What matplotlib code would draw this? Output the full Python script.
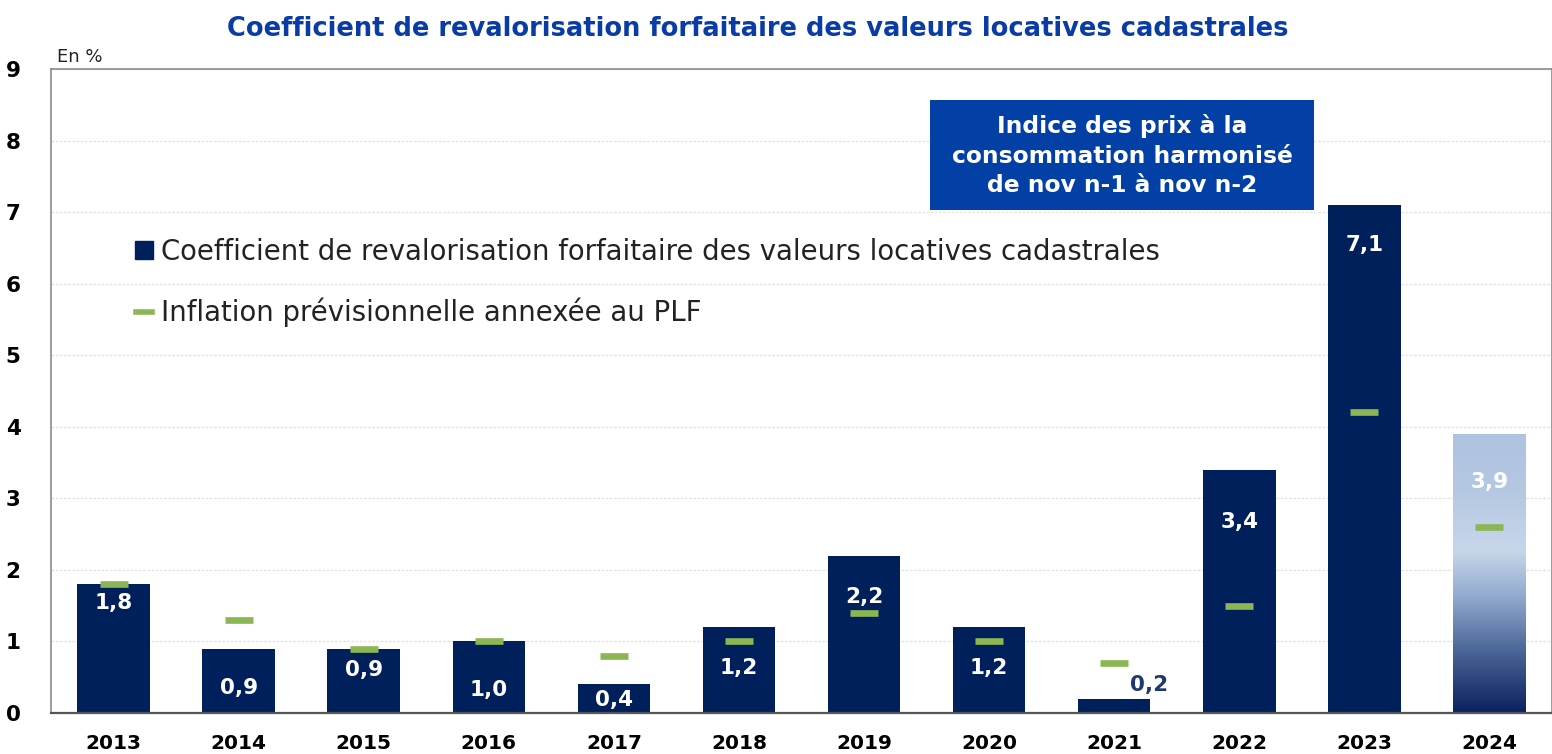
import numpy as np
import matplotlib.pyplot as plt
from matplotlib.lines import Line2D
from matplotlib.patches import Rectangle
from matplotlib.colors import LinearSegmentedColormap

plt.rcParams['font.family'] = ['DejaVu Sans']

# Données
annees = ['2013', '2014', '2015', '2016', '2017', '2018',
          '2019', '2020', '2021', '2022', '2023', '2024']
coefficient = [1.8, 0.9, 0.9, 1.0, 0.4, 1.2, 2.2, 1.2, 0.2, 3.4, 7.1, 3.9]
inflation_plf = [1.8, 1.3, 0.9, 1.0, 0.8, 1.0, 1.4, 1.0, 0.7, 1.5, 4.2, 2.6]

# hauteur des étiquettes de valeur (en %)
pos_etiquettes = [1.54, 0.35, 0.60, 0.32, 0.18, 0.63, 1.62, 0.63, 0.39, 2.67, 6.54, 3.23]

bleu_fonce = '#00205c'
vert = '#8cb653'
bleu_titre = '#0a3ca5'
bleu_encadre = '#0340a6'

fig = plt.figure(figsize=(15.52, 7.54), dpi=100)
ax = fig.add_axes([51 / 1552, 41 / 754, 1 - 51 / 1552, 644 / 754])

x = np.arange(len(annees))
largeur = 0.58

barres = ax.bar(x, coefficient, width=largeur, color=bleu_fonce, zorder=2)

# Dernière barre (2024) en dégradé
derniere = barres[-1]
derniere.set_facecolor('none')
degrade = LinearSegmentedColormap.from_list(
    'degrade', [(0.0, '#0b2160'), (0.22, '#4a6597'), (0.42, '#93abd0'),
                (0.58, '#c8d6ea'), (0.8, '#b4c8e2'), (1.0, '#aec3e0')])
xb = derniere.get_x()
grad = np.linspace(0, 1, 256).reshape(-1, 1)
img = ax.imshow(grad, cmap=degrade, origin='lower', aspect='auto',
                extent=[xb, xb + largeur, 0, coefficient[-1]], zorder=2)
img.set_clip_path(derniere)

# Inflation prévisionnelle : petits traits verts
ax.scatter(x, inflation_plf, marker='_', s=400, linewidths=4.8,
           color=vert, zorder=3)

# Étiquettes de valeur
for i, (v, h) in enumerate(zip(coefficient, pos_etiquettes)):
    txt = f'{v:.1f}'.replace('.', ',')
    if annees[i] == '2021':
        ax.text(i + 0.13, h, txt, ha='left', va='center', fontsize=15.5,
                fontweight='bold', color='#1d3a70', zorder=4)
    else:
        ax.text(i, h, txt, ha='center', va='center', fontsize=15.5,
                fontweight='bold', color='white', zorder=4)

ax.set_xlim(-0.5, len(annees) - 0.5)
ax.set_ylim(0, 9)
ax.set_yticks(range(10))
ax.set_yticklabels([str(i) for i in range(10)], fontsize=15.5, fontweight='bold')
ax.set_xticks(x)
ax.set_xticklabels(annees, fontsize=14.5, fontweight='bold')
ax.tick_params(axis='both', length=0)
ax.tick_params(axis='y', pad=22)
ax.tick_params(axis='x', pad=15)

ax.grid(axis='y', color='#e4e4e4', linestyle=(0, (2, 1)), linewidth=1, zorder=0)
ax.set_axisbelow(True)
for s in ['top', 'left', 'right']:
    ax.spines[s].set_color('#8a8a8a')
    ax.spines[s].set_linewidth(1.2)
ax.spines['bottom'].set_color('#555555')
ax.spines['bottom'].set_linewidth(1.6)

ax.text(0.004, 1.004, 'En %', transform=ax.transAxes, ha='left', va='bottom',
        fontsize=13, color='#222222')

fig.text(0.488, 0.962, 'Coefficient de revalorisation forfaitaire des valeurs locatives cadastrales',
         ha='center', va='center', fontsize=18.5, fontweight='bold', color=bleu_titre)

# Encadré
ax.add_patch(Rectangle((6.53, 7.03), 3.07, 1.54, facecolor=bleu_encadre,
                       edgecolor='none', zorder=5))
ax.text(8.065, 7.79, 'Indice des prix à la\nconsommation harmonisé\nde nov n-1 à nov n-2',
        ha='center', va='center', fontsize=16.8, fontweight='bold', color='white',
        linespacing=1.38, zorder=6)

# Légende
poignees = [Line2D([], [], marker='s', color=bleu_fonce, linestyle='none', markersize=13),
            Line2D([], [], color=vert, linewidth=4)]
ax.legend(poignees,
          ['Coefficient de revalorisation forfaitaire des valeurs locatives cadastrales',
           'Inflation prévisionnelle annexée au PLF'],
          loc='upper left', bbox_to_anchor=(0.04, 0.776), frameon=False,
          fontsize=19.8, handlelength=0.6, handletextpad=0.3, labelspacing=1.15,
          labelcolor='#222222')

fig.savefig('out.png', dpi=100)
